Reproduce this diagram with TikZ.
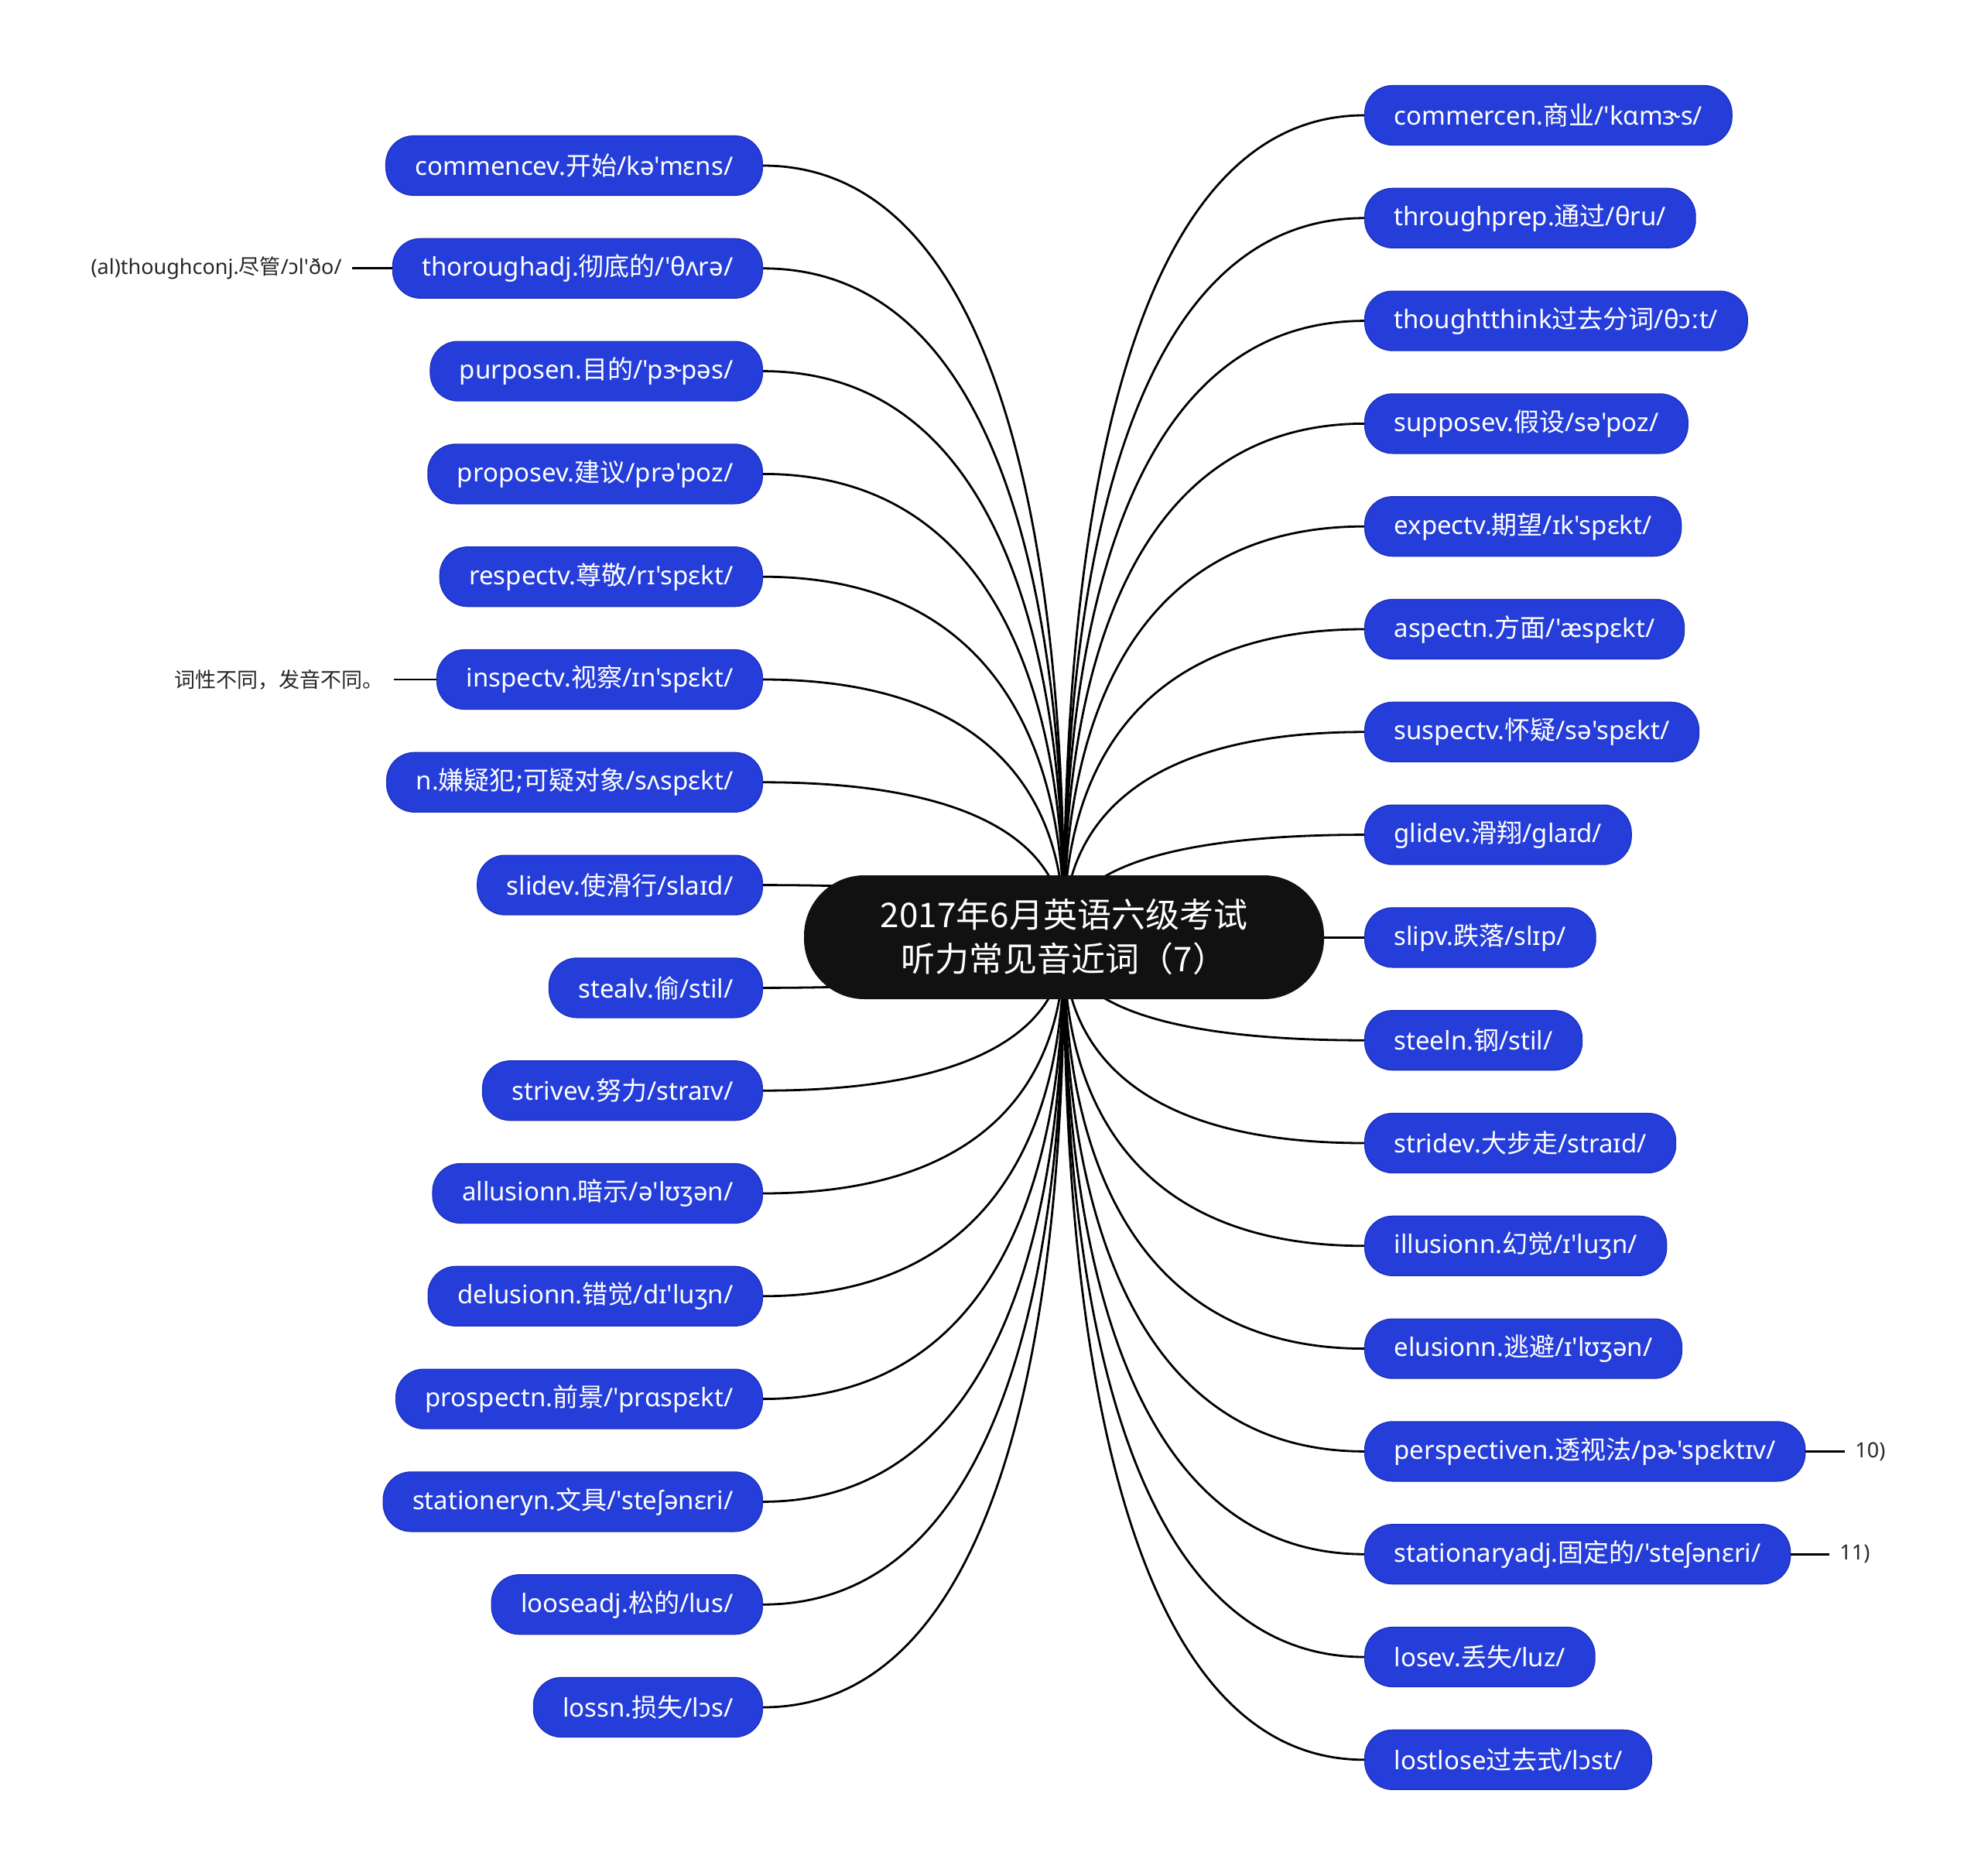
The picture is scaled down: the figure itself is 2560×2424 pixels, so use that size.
\documentclass[tikz,border=0pt]{standalone}
\usepackage{fontspec}
\setmainfont{Noto Sans}[Ligatures=TeXOff]
\newfontfamily\cjkfont{Noto Sans CJK SC}
\usepackage{tikz}
\usetikzlibrary{positioning,calc,backgrounds}

\definecolor{wordblue}{RGB}{37,62,217}
\definecolor{wordedge}{RGB}{27,46,186}
\definecolor{rootblack}{RGB}{17,17,17}

\tikzset{
  word/.style={rectangle, rounded corners=18pt, fill=wordblue, draw=wordedge, line width=0.6pt,
    text=white, minimum height=38.5pt, inner xsep=19pt, inner ysep=0pt,
    font=\fontsize{16.5}{20}\selectfont},
  rootbox/.style={rectangle, rounded corners=39pt, fill=rootblack, text=white, align=center,
    minimum width=336pt, minimum height=80pt, font=\cjkfont\fontsize{22}{28.5}\selectfont},
  note/.style={text=black!85, inner xsep=6.5pt, font=\fontsize{13.5}{16}\selectfont},
  branch/.style={line width=1.4pt, black}
}

% curve from a word box back to the centre of the root
\newcommand{\branchto}[2]{%
  \draw[branch] (#1.#2) .. controls (#1.#2 -| root.center)
    and ($(root.center)!0.2!(#1.#2 -| root.center)$) .. (root.center);}

\begin{document}
\begin{tikzpicture}[x=0.5pt, y=-0.5pt]
\useasboundingbox (0,0) rectangle (2560,2424);

% Root
\node[rootbox] (root) at (1375,1211) {2017年6月英语六级考试\\听力常见音近词（7）};

% Left words
\node[word, anchor=east] (commence) at (986,214) {commencev.{\cjkfont 开始}/kə'mɛns/};
\node[word, anchor=east] (thorough) at (986,346.8) {thoroughadj.{\cjkfont 彻底的}/'θʌrə/};
\node[word, anchor=east] (purpose) at (986,479.6) {purposen.{\cjkfont 目的}/'pɝpəs/};
\node[word, anchor=east] (propose) at (986,612.4) {proposev.{\cjkfont 建议}/prə'poz/};
\node[word, anchor=east] (respect) at (986,745.2) {respectv.{\cjkfont 尊敬}/rɪ'spɛkt/};
\node[word, anchor=east] (inspect) at (986,878) {inspectv.{\cjkfont 视察}/ɪn'spɛkt/};
\node[word, anchor=east] (suspectn) at (986,1010.8) {n.{\cjkfont 嫌疑犯}\kern1pt;{\cjkfont 可疑对象}/sʌspɛkt/};
\node[word, anchor=east] (slide) at (986,1143.6) {slidev.{\cjkfont 使滑行}/slaɪd/};
\node[word, anchor=east] (steal) at (986,1276.4) {stealv.{\cjkfont 偷}/stil/};
\node[word, anchor=east] (strive) at (986,1409.2) {strivev.{\cjkfont 努力}/straɪv/};
\node[word, anchor=east] (allusion) at (986,1542) {allusionn.{\cjkfont 暗示}/ə'lʊʒən/};
\node[word, anchor=east] (delusion) at (986,1674.8) {delusionn.{\cjkfont 错觉}/dɪ'luʒn/};
\node[word, anchor=east] (prospect) at (986,1807.6) {prospectn.{\cjkfont 前景}/'prɑspɛkt/};
\node[word, anchor=east] (stationery) at (986,1940.4) {stationeryn.{\cjkfont 文具}/'steʃənɛri/};
\node[word, anchor=east] (loose) at (986,2073.2) {looseadj.{\cjkfont 松的}/lus/};
\node[word, anchor=east] (loss) at (986,2206) {lossn.{\cjkfont 损失}/lɔs/};

% Right words
\node[word, anchor=west] (commerce) at (1763,149) {commercen.{\cjkfont 商业}/'kɑmɝs/};
\node[word, anchor=west] (through) at (1763,281.8) {throughprep.{\cjkfont 通过}/θru/};
\node[word, anchor=west] (thought) at (1763,414.6) {thoughtthink{\cjkfont 过去分词}/θɔːt/};
\node[word, anchor=west] (suppose) at (1763,547.4) {supposev.{\cjkfont 假设}/sə'poz/};
\node[word, anchor=west] (expect) at (1763,680.2) {expectv.{\cjkfont 期望}/ɪk'spɛkt/};
\node[word, anchor=west] (aspect) at (1763,813) {aspectn.{\cjkfont 方面}/'æspɛkt/};
\node[word, anchor=west] (suspectv) at (1763,945.8) {suspectv.{\cjkfont 怀疑}/sə'spɛkt/};
\node[word, anchor=west] (glide) at (1763,1078.6) {glidev.{\cjkfont 滑翔}/glaɪd/};
\node[word, anchor=west] (slip) at (1763,1211.4) {slipv.{\cjkfont 跌落}/slɪp/};
\node[word, anchor=west] (steel) at (1763,1344.2) {steeln.{\cjkfont 钢}/stil/};
\node[word, anchor=west] (stride) at (1763,1477) {stridev.{\cjkfont 大步走}/straɪd/};
\node[word, anchor=west] (illusion) at (1763,1609.8) {illusionn.{\cjkfont 幻觉}/ɪ'luʒn/};
\node[word, anchor=west] (elusion) at (1763,1742.6) {elusionn.{\cjkfont 逃避}/ɪ'lʊʒən/};
\node[word, anchor=west] (perspective) at (1763,1875.4) {perspectiven.{\cjkfont 透视法}/pɚ'spɛktɪv/};
\node[word, anchor=west] (stationary) at (1763,2008.2) {stationaryadj.{\cjkfont 固定的}/'steʃənɛri/};
\node[word, anchor=west] (lose) at (1763,2141) {losev.{\cjkfont 丢失}/luz/};
\node[word, anchor=west] (lost) at (1763,2273.8) {lostlose{\cjkfont 过去式}/lɔst/};

% Side notes
\node[note, anchor=east] (although) at (455,346.8) {(al)thoughconj.{\cjkfont 尽管}/ɔl'ðo/};
\node[note, anchor=east] (wordclass) at (509,878) {\cjkfont 词性不同，发音不同。};
\node[note, anchor=west] (ten) at (2384,1875.4) {10)};
\node[note, anchor=west] (eleven) at (2364,2008.2) {11)};
\draw[branch] (although.east) -- (thorough.west);
\draw[branch] (wordclass.east) -- (inspect.west);
\draw[branch] (perspective.east) -- (ten.west);
\draw[branch] (stationary.east) -- (eleven.west);

% Branches
\begin{pgfonlayer}{background}
\branchto{commence}{east}
\branchto{thorough}{east}
\branchto{purpose}{east}
\branchto{propose}{east}
\branchto{respect}{east}
\branchto{inspect}{east}
\branchto{suspectn}{east}
\branchto{slide}{east}
\branchto{steal}{east}
\branchto{strive}{east}
\branchto{allusion}{east}
\branchto{delusion}{east}
\branchto{prospect}{east}
\branchto{stationery}{east}
\branchto{loose}{east}
\branchto{loss}{east}
\branchto{commerce}{west}
\branchto{through}{west}
\branchto{thought}{west}
\branchto{suppose}{west}
\branchto{expect}{west}
\branchto{aspect}{west}
\branchto{suspectv}{west}
\branchto{glide}{west}
\branchto{slip}{west}
\branchto{steel}{west}
\branchto{stride}{west}
\branchto{illusion}{west}
\branchto{elusion}{west}
\branchto{perspective}{west}
\branchto{stationary}{west}
\branchto{lose}{west}
\branchto{lost}{west}
\end{pgfonlayer}
\end{tikzpicture}
\end{document}
